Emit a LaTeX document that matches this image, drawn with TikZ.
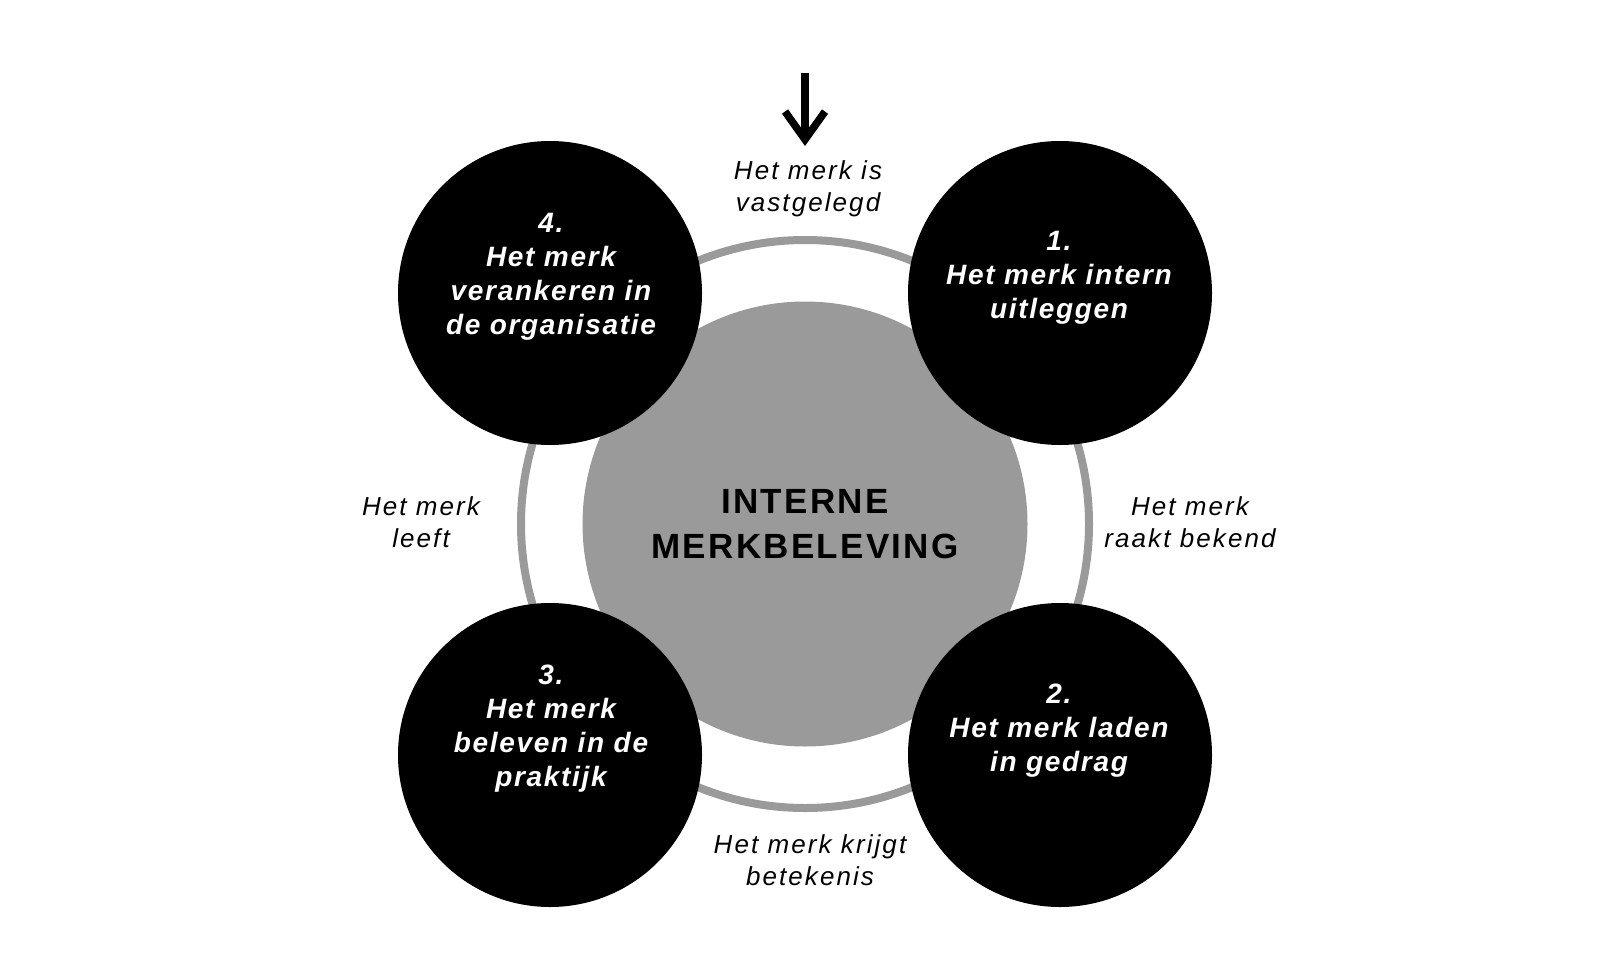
\documentclass[tikz,border=0pt]{standalone}
\usepackage{fontspec}
\setmainfont{Liberation Sans}
\newfontfamily\lblfont[LetterSpace=8]{Liberation Sans}
\newfontfamily\circfont[LetterSpace=6]{Liberation Sans}
\newfontfamily\titlefont[LetterSpace=6.5]{Liberation Sans}
\usetikzlibrary{arrows.meta}
\definecolor{ringgray}{HTML}{9A9A9A}
\definecolor{diskgray}{HTML}{9A9A9A}
\tikzset{
  blackdisk/.style={circle, fill=black, minimum size=304pt, inner sep=0pt},
  circtext/.style={text=white, align=center, font=\circfont\fontsize{28}{34}\selectfont\bfseries\itshape},
  lbl/.style={text=black, align=center, font=\lblfont\fontsize{26}{32}\selectfont\itshape},
  titletext/.style={text=black, align=center, font=\titlefont\fontsize{35}{45}\selectfont\bfseries}
}
\begin{document}
\begin{tikzpicture}[x=1pt,y=-1pt]
\useasboundingbox (0,0) rectangle (1614,974);
% ring
\coordinate (mid) at (805,524);
\draw[ringgray, line width=8pt] (mid) circle[radius=284];
% central disk
\node[circle, fill=diskgray, minimum size=445pt, inner sep=0pt] (core) at (mid) {};
\node[titletext] (title) at (805,524) {INTERNE\\MERKBELEVING};
% black disks
\node[blackdisk] (c4) at (550,293) {};
\node[blackdisk] (c1) at (1060,293) {};
\node[blackdisk] (c3) at (550,755) {};
\node[blackdisk] (c2) at (1060,755) {};
\node[circtext] (t4) at (551,277) {4.\\Het merk\\verankeren in\\de organisatie};
\node[circtext] (t1) at (1059,278) {1.\\Het merk intern\\uitleggen};
\node[circtext] (t2) at (1059,731) {2.\\Het merk laden\\in gedrag};
\node[circtext] (t3) at (551,729) {3.\\Het merk\\beleven in de\\praktijk};
% labels
\node[lbl] (l0) at (808,189) {Het merk is\\vastgelegd};
\node[lbl] (l1) at (1190,522) {Het merk\\raakt bekend};
\node[lbl] (l3) at (421,522) {Het merk\\leeft};
\node[lbl] (l2) at (810,860) {Het merk krijgt\\betekenis};
% arrow
\coordinate (arrowtop) at (805,73);
\coordinate (arrowtip) at (805,146);
\draw[line width=7.5pt, -{Straight Barb[length=28pt, width=40pt]}] (arrowtop) -- (arrowtip);
\end{tikzpicture}
\end{document}
